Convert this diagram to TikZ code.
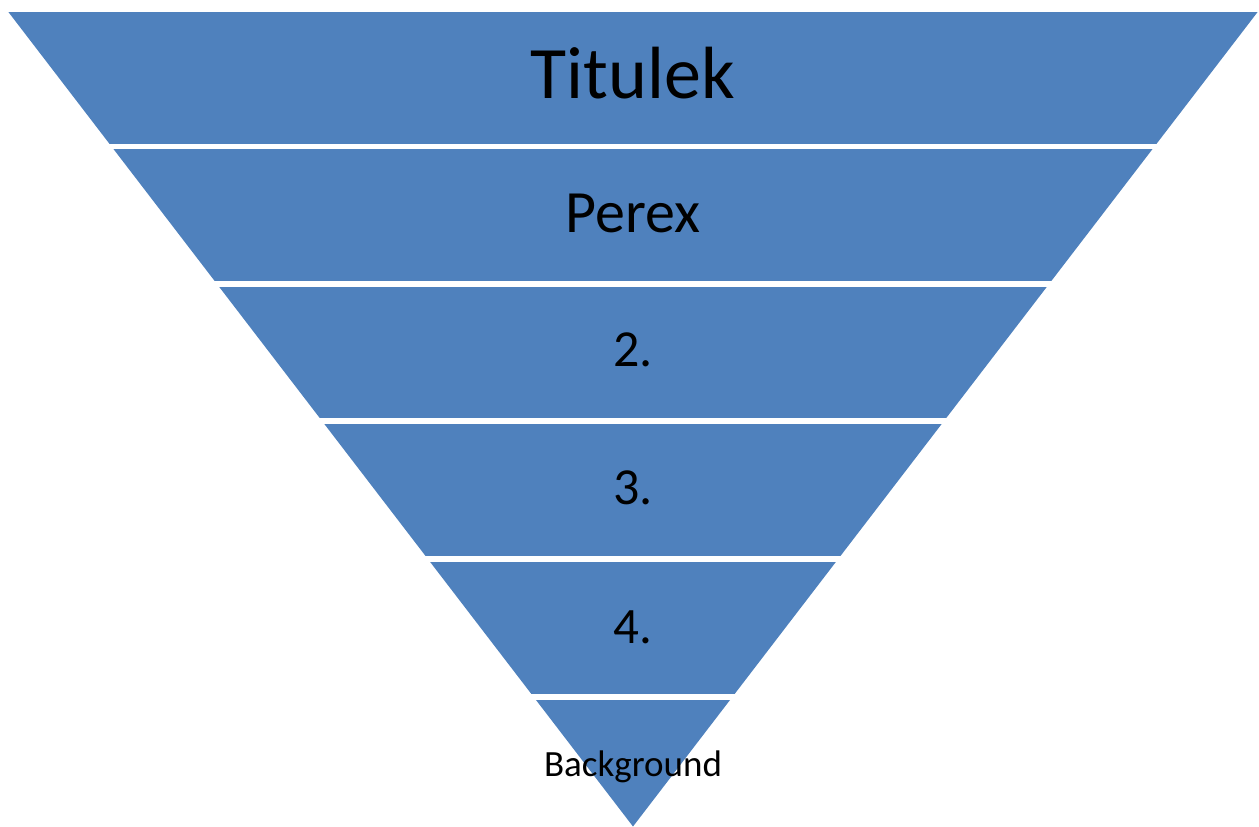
\documentclass[tikz,border=0pt]{standalone}
\usepackage{fontspec}
\setmainfont{Carlito}
\definecolor{bandblue}{HTML}{4F81BD}
\begin{document}
\begin{tikzpicture}[x=1pt,y=-1pt,
  band/.style={fill=bandblue},
  lbl/.style={anchor=base,inner sep=0pt,text=black}]
\useasboundingbox (0,0) rectangle (1259,827);
\begin{scope}
  \clip (8,11.5) -- (1258,11.5) -- (633,826.5) -- cycle;
  \fill[band] (0,11.5) rectangle (1259,143.5);
  \fill[band] (0,149) rectangle (1259,281);
  \fill[band] (0,287) rectangle (1259,418);
  \fill[band] (0,423.5) rectangle (1259,555.5);
  \fill[band] (0,561.5) rectangle (1259,694);
  \fill[band] (0,699.5) rectangle (1259,827);
\end{scope}
\node[lbl,font=\fontsize{74}{80}\selectfont] (t1) at (633,98.3) {Titulek};
\node[lbl,font=\fontsize{60}{66}\selectfont] (t2) at (633,232.7) {Perex};
\node[lbl,font=\fontsize{52}{58}\selectfont] (t3) at (633,366.7) {2.};
\node[lbl,font=\fontsize{52}{58}\selectfont] (t4) at (633,504.5) {3.};
\node[lbl,font=\fontsize{51}{56}\selectfont] (t5) at (633,643.3) {4.};
\node[lbl,font=\fontsize{37}{42}\selectfont] (t6) at (633,776.7) {Background};
\end{tikzpicture}
\end{document}
